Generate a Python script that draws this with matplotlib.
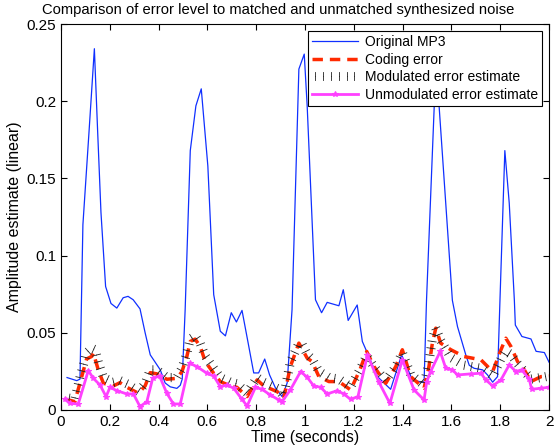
import matplotlib
matplotlib.use("Agg")
import matplotlib.pyplot as plt
from matplotlib import patheffects as pe

plt.rcParams['font.family'] = ['Liberation Sans', 'DejaVu Sans']

# Original MP3
t_orig = [0.025, 0.065, 0.078, 0.09, 0.115, 0.137, 0.15, 0.164, 0.183, 0.205, 0.229, 0.255, 0.275,
          0.296, 0.324, 0.345, 0.366, 0.386, 0.407, 0.427, 0.448, 0.475, 0.489, 0.497, 0.509, 0.53,
          0.553, 0.575, 0.602, 0.626, 0.653, 0.674, 0.698, 0.719, 0.742, 0.767, 0.79, 0.81, 0.835,
          0.855, 0.879, 0.906, 0.927, 0.947, 0.975, 0.997, 1.009, 1.043, 1.068, 1.091, 1.139, 1.157,
          1.177, 1.214, 1.235, 1.256, 1.297, 1.351, 1.396, 1.44, 1.488, 1.498, 1.537, 1.604, 1.625,
          1.659, 1.673, 1.693, 1.728, 1.748, 1.769, 1.789, 1.799, 1.819, 1.837, 1.858, 1.862, 1.889,
          1.926, 1.947, 1.981, 2.0]
v_orig = [0.021, 0.019, 0.02, 0.12, 0.18, 0.234, 0.182, 0.128, 0.080, 0.069, 0.066, 0.0727, 0.0736,
          0.0714, 0.0655, 0.05, 0.0357, 0.031, 0.026, 0.0175, 0.015, 0.014, 0.016, 0.02, 0.065, 0.168,
          0.197, 0.208, 0.158, 0.0747, 0.051, 0.048, 0.063, 0.057, 0.0645, 0.0435, 0.024, 0.024, 0.033,
          0.0227, 0.0143, 0.0087, 0.0175, 0.065, 0.2208, 0.2305, 0.197, 0.0714, 0.063, 0.0697, 0.0675,
          0.0779, 0.058, 0.068, 0.0444, 0.0368, 0.0216, 0.0134, 0.0357, 0.0195, 0.0177, 0.071, 0.226,
          0.071, 0.054, 0.0357, 0.029, 0.027, 0.026, 0.0227, 0.018, 0.0216, 0.071, 0.168, 0.134, 0.071,
          0.055, 0.0476, 0.046, 0.038, 0.0372, 0.031]

# Coding error
t_code = [0.02, 0.057, 0.078, 0.105, 0.126, 0.133, 0.153, 0.174, 0.215, 0.242, 0.27, 0.318, 0.345,
          0.366, 0.393, 0.434, 0.475, 0.496, 0.516, 0.53, 0.55, 0.571, 0.591, 0.626, 0.653, 0.694,
          0.721, 0.763, 0.804, 0.831, 0.886, 0.913, 0.94, 0.975, 1.009, 1.029, 1.057, 1.098, 1.139,
          1.187, 1.225, 1.253, 1.283, 1.331, 1.372, 1.399, 1.433, 1.488, 1.508, 1.522, 1.536, 1.556,
          1.598, 1.652, 1.721, 1.769, 1.803, 1.823, 1.844, 1.871, 1.899, 1.926, 1.967, 2.0]
v_code = [0.007, 0.0054, 0.0175, 0.033, 0.0347, 0.0368, 0.026, 0.0173, 0.0156, 0.0177, 0.0147, 0.0108,
          0.0156, 0.0242, 0.0234, 0.0199, 0.0205, 0.0249, 0.0347, 0.0444, 0.0459, 0.0411, 0.0314,
          0.0238, 0.0184, 0.0156, 0.0147, 0.0087, 0.0195, 0.0156, 0.0119, 0.0076, 0.0281, 0.0433,
          0.0336, 0.0314, 0.0216, 0.0184, 0.0184, 0.013, 0.026, 0.0379, 0.0281, 0.0173, 0.0281, 0.039,
          0.0216, 0.0141, 0.0281, 0.0433, 0.053, 0.0433, 0.039, 0.0346, 0.0325, 0.0249, 0.039, 0.0465,
          0.0411, 0.0314, 0.026, 0.0184, 0.0216, 0.022]

# Modulated error estimate
t_mod = [0.02, 0.057, 0.078, 0.105, 0.126, 0.14, 0.153, 0.174, 0.215, 0.242, 0.27, 0.318, 0.345,
         0.366, 0.393, 0.434, 0.475, 0.496, 0.516, 0.53, 0.55, 0.571, 0.591, 0.626, 0.653, 0.694,
         0.721, 0.763, 0.804, 0.831, 0.886, 0.913, 0.94, 0.975, 0.99, 1.009, 1.029, 1.057, 1.098,
         1.139, 1.187, 1.225, 1.253, 1.283, 1.331, 1.372, 1.399, 1.433, 1.488, 1.508, 1.522, 1.536,
         1.556, 1.598, 1.652, 1.721, 1.769, 1.803, 1.823, 1.844, 1.871, 1.899, 1.926, 1.967, 2.0]
v_mod = [0.008, 0.007, 0.021, 0.037, 0.040, 0.039, 0.031, 0.021, 0.018, 0.019, 0.017, 0.012, 0.017,
         0.026, 0.026, 0.021, 0.021, 0.027, 0.037, 0.046, 0.048, 0.043, 0.035, 0.027, 0.021, 0.018,
         0.017, 0.011, 0.021, 0.018, 0.014, 0.009, 0.031, 0.043, 0.042, 0.036, 0.033, 0.025, 0.021, 0.02,
         0.015, 0.026, 0.035, 0.028, 0.019, 0.028, 0.037, 0.023, 0.016, 0.031, 0.046, 0.053, 0.045,
         0.034, 0.029, 0.027, 0.022, 0.033, 0.038, 0.036, 0.03, 0.025, 0.02, 0.021, 0.022]

# Unmodulated error estimate
t_unmod = [0.016, 0.037, 0.071, 0.112, 0.133, 0.16, 0.185, 0.201, 0.229, 0.27, 0.297, 0.324, 0.352,
           0.376, 0.404, 0.434, 0.461, 0.489, 0.527, 0.557, 0.598, 0.626, 0.653, 0.68, 0.708, 0.742,
           0.763, 0.797, 0.824, 0.858, 0.893, 0.906, 0.94, 0.982, 1.009, 1.036, 1.064, 1.091, 1.132,
           1.159, 1.187, 1.217, 1.256, 1.303, 1.348, 1.399, 1.447, 1.488, 1.499, 1.515, 1.554, 1.577,
           1.604, 1.625, 1.68, 1.721, 1.741, 1.769, 1.803, 1.837, 1.864, 1.888, 1.919, 1.929, 1.967, 2.0]
v_unmod = [0.0069, 0.0043, 0.0039, 0.0255, 0.0205, 0.0162, 0.0087, 0.0147, 0.0125, 0.0104, 0.0104,
           0.0022, 0.0054, 0.0205, 0.022, 0.0108, 0.0039, 0.0039, 0.0303, 0.0281, 0.0238, 0.022,
           0.0151, 0.0162, 0.0141, 0.0069, 0.0026, 0.0147, 0.0134, 0.0097, 0.0065, 0.0054, 0.013,
           0.0249, 0.0212, 0.0156, 0.0147, 0.0104, 0.0125, 0.0104, 0.0069, 0.0087, 0.0357, 0.018,
           0.0043, 0.0325, 0.013, 0.0065, 0.0184, 0.0249, 0.0379, 0.027, 0.026, 0.0227, 0.0234, 0.0238,
           0.0195, 0.0156, 0.0195, 0.0292, 0.0249, 0.026, 0.0199, 0.0134, 0.0141, 0.0147]

x_ticks = [0, 0.2, 0.4, 0.6, 0.8, 1, 1.2, 1.4, 1.6, 1.8, 2]
x_labels = ['0', '0.2', '0.4', '0.6', '0.8', '1', '1.2', '1.4', '1.6', '1.8', '2']
y_ticks = [0, 0.05, 0.1, 0.15, 0.2, 0.25]
y_labels = ['0', '0.05', '0.1', '0.15', '0.2', '0.25']

fig = plt.figure(figsize=(5.54, 4.47), dpi=100)
ax = fig.add_axes([0.110, 0.0828, 0.881, 0.8635])

ax.plot(t_orig, v_orig, color='#1030ff', lw=0.9, label='Original MP3')
ax.plot(t_code, v_code, color='#ff2a00', lw=2.5, linestyle=(0, (3, 2)), label='Coding error')
tick_fx = [pe.TickedStroke(angle=90, spacing=5, length=0.6, linewidth=0.6, foreground='#222222'),
           pe.TickedStroke(angle=-90, spacing=5, length=0.6, linewidth=0.6, foreground='#222222')]
ax.plot(t_mod, v_mod, color='#222222', lw=0.6, label='Modulated error estimate',
        path_effects=tick_fx)
ax.plot(t_unmod, v_unmod, color='#ff40ff', lw=2, marker='*', markersize=4,
        markeredgewidth=0.8, label='Unmodulated error estimate')

ax.set_xlim(0, 2)
ax.set_ylim(0, 0.25)
ax.set_xticks(x_ticks)
ax.set_xticklabels(x_labels)
ax.set_yticks(y_ticks)
ax.set_yticklabels(y_labels)
ax.tick_params(direction='in', top=True, right=True, labelsize=11, length=4)
for s in ax.spines.values():
    s.set_linewidth(0.8)

ax.set_title('Comparison of error level to matched and unmatched synthesized noise',
             fontsize=10.6, pad=7, x=0.445)
ax.set_xlabel('Time (seconds)', fontsize=11.3, labelpad=1)
ax.set_ylabel('Amplitude estimate (linear)', fontsize=11.5, labelpad=3)

leg = ax.legend(loc='upper right', fontsize=10, fancybox=False, framealpha=1, edgecolor='black',
                borderaxespad=0.5, handlelength=3.3, borderpad=0.3, labelspacing=0.25, handletextpad=0.5)
leg.get_frame().set_linewidth(0.8)

fig.savefig('out.png', dpi=100)
